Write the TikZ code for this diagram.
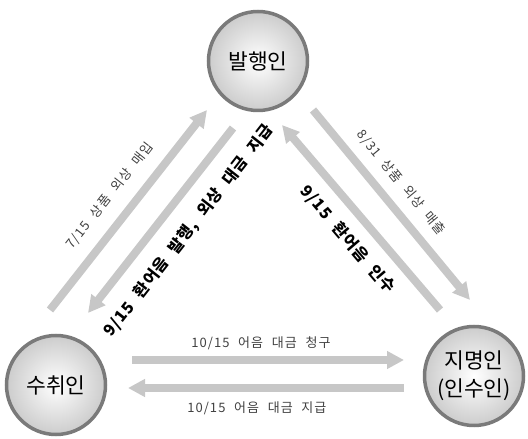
\documentclass[tikz,border=0pt]{standalone}
\usepackage{fontspec}
\setmainfont[WordSpace=2.2]{Noto Sans CJK KR}
\usetikzlibrary{
		arrows.meta,
		positioning
	}
\tikzset{
		>=stealth,
		party/.style={circle, minimum size=99pt, draw=black!52, line width=3.5pt,
			inner color=white, outer color=black!20, align=center,
			font=\fontsize{21.5}{28}\selectfont},
		flow/.style={draw=black!22, line width=8pt,
			-{Triangle[width=17pt,length=17pt]}},
		thinlabel/.style={inner sep=0pt, text=black!75,
			font=\fontsize{13}{15}\selectfont\addfontfeature{LetterSpace=8}},
		boldlabel/.style={inner sep=0pt,
			font=\bfseries\fontsize{16}{18}\selectfont\addfontfeature{LetterSpace=6}}
	}
\begin{document}
\begin{tikzpicture}[x=1pt,y=1pt]
              \useasboundingbox (0,0) rectangle (528,439);

              % the three parties
              \node[party] (iss) at (258,378) {발행인};
              \node[party] (rcv) at (56,54) {수취인};
              \node[party] (drw) at (474,63) {지명인\\(인수인)};

              % ends of the arrows (they run beside each other, not centre to centre)
              \coordinate (lo1) at (50,129);
              \coordinate (lo2) at (207,329);
              \coordinate (li1) at (233,311);
              \coordinate (li2) at (88,126);
              \coordinate (ro1) at (313,329);
              \coordinate (ro2) at (470,139);
              \coordinate (ri1) at (440,129);
              \coordinate (ri2) at (282,314);
              \coordinate (bu1) at (132,79);
              \coordinate (bu2) at (404,79);
              \coordinate (bl1) at (404,51);
              \coordinate (bl2) at (128,51);

              % draw the arrows with their texts
              \draw[flow] (lo1) -- node[pos=0.5, sloped, above=13pt, thinlabel] {7/15 상품 외상 매입} (lo2);
              \draw[flow] (li1) -- node[pos=0.46, sloped, below=16pt, boldlabel] {9/15 환어음 발행, 외상 대금 지급} (li2);
              \draw[flow] (ro1) -- node[pos=0.455, sloped, above=11pt, thinlabel] {8/31 상품 외상 매출} (ro2);
              \draw[flow] (ri1) -- node[pos=0.467, sloped, below=12pt, boldlabel] {9/15 환어음 인수} (ri2);
              \draw[flow] (bu1) -- node[pos=0.474, above=6pt, thinlabel] {10/15 어음 대금 청구} (bu2);
              \draw[flow] (bl1) -- node[pos=0.533, below=10pt, thinlabel] {10/15 어음 대금 지급} (bl2);

\end{tikzpicture}
\end{document}
